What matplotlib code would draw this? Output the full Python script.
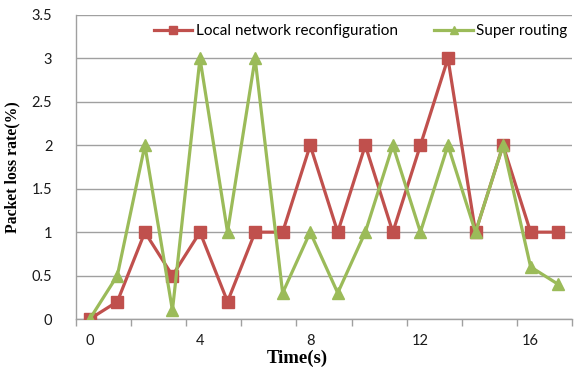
import matplotlib
matplotlib.use("Agg")
import matplotlib.pyplot as plt
from matplotlib.lines import Line2D

time_s = list(range(18))
local_reconfig = [0, 0.2, 1, 0.5, 1, 0.2, 1, 1, 2, 1, 2, 1, 2, 3, 1, 2, 1, 1]
super_routing = [0, 0.5, 2, 0.1, 3, 1, 3, 0.3, 1, 0.3, 1, 2, 1, 2, 1, 2, 0.6, 0.4]
x_labels = [0, 4, 8, 12, 16]
y_ticks = [0, 0.5, 1, 1.5, 2, 2.5, 3, 3.5]
y_tick_labels = ["0", "0.5", "1", "1.5", "2", "2.5", "3", "3.5"]

RED = "#C0504D"
GREEN = "#9BBB59"
GRID = "#A0A0A0"

fig = plt.figure(figsize=(5.74, 3.70), dpi=100)
ax = fig.add_axes([0.1324, 0.1378, 0.864, 0.8217])

ax.plot(time_s, local_reconfig, color=RED, lw=2.3, marker="s", ms=9,
        mec=RED, mfc=RED, zorder=3, label="Local network reconfiguration")
ax.plot(time_s, super_routing, color=GREEN, lw=2.3, marker="^", ms=9,
        mec=GREEN, mfc=GREEN, zorder=4, label="Super routing")

ax.set_xlim(-0.5, 17.5)
ax.set_ylim(0, 3.5)
ax.set_yticks(y_ticks)
ax.set_yticklabels(y_tick_labels)
ax.set_xticks(x_labels)
ax.set_xticklabels([str(v) for v in x_labels])
ax.set_xticks([i - 0.5 for i in range(0, 19, 2)], minor=True)

ax.yaxis.grid(True, color=GRID, lw=1)
ax.set_axisbelow(True)
for s in ["top", "right"]:
    ax.spines[s].set_visible(False)
for s in ["left", "bottom"]:
    ax.spines[s].set_color(GRID)
    ax.spines[s].set_linewidth(1)

ax.tick_params(axis="y", length=0, pad=17, labelsize=10.5, labelcolor="#1a1a1a")
ax.tick_params(axis="x", which="major", length=0, pad=11, labelsize=10.5, labelcolor="#1a1a1a")
ax.tick_params(axis="x", which="minor", length=5, color=GRID, width=1)
for lab in ax.get_xticklabels() + ax.get_yticklabels():
    lab.set_family("Lato")

ax.set_ylabel("Packet loss rate(%)", family="Liberation Serif", fontweight="bold",
              fontsize=11.3, labelpad=8)
ax.text(0.447, -0.1, "Time(s)", transform=ax.transAxes, ha="center", va="top",
        family="Liberation Serif", fontweight="bold", fontsize=13.5)

handles = [
    Line2D([], [], color=RED, lw=2.3, marker="s", ms=6),
    Line2D([], [], color=GREEN, lw=2.3, marker="^", ms=6),
]
leg = ax.legend(handles, ["Local network reconfiguration", "Super routing"],
                loc="upper right", bbox_to_anchor=(1.01, 1.0), ncol=2, frameon=False,
                prop={"family": "Lato", "size": 11}, handlelength=2.5,
                handletextpad=0.25, columnspacing=2.4, borderaxespad=0.2)

fig.savefig("out.png", dpi=100)
